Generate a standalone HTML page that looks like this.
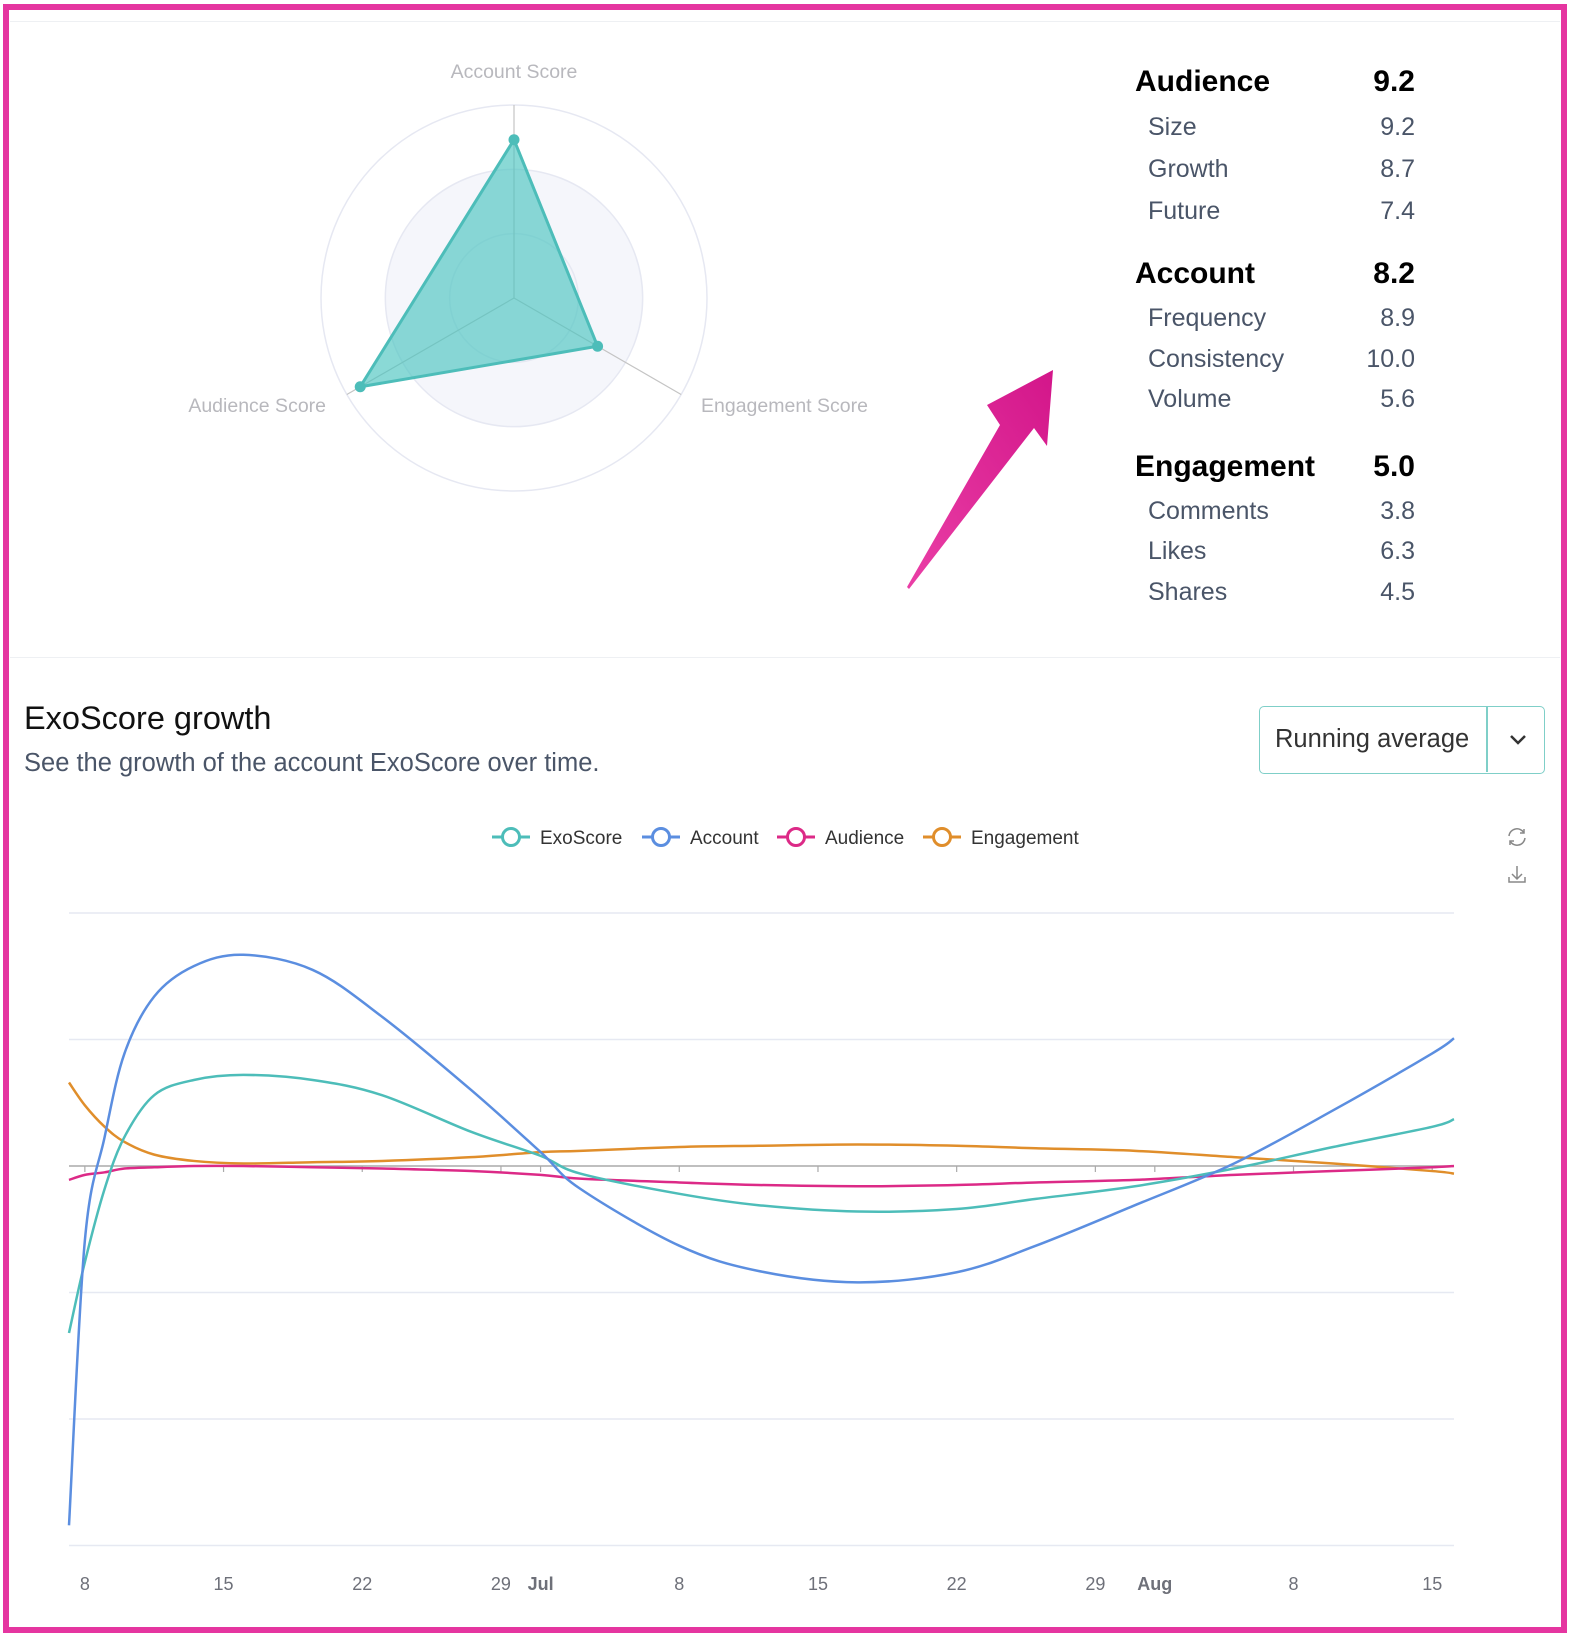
<!DOCTYPE html>
<html><head><meta charset="utf-8"><style>
html,body{margin:0;padding:0;background:#fff;}
body{width:1572px;height:1637px;position:relative;overflow:hidden;font-family:"Liberation Sans",sans-serif;}
.frame{position:absolute;left:3px;top:4px;width:1552px;height:1617px;border:6px solid #e535a0;}
.t{position:absolute;white-space:nowrap;}
.h{font-size:30px;color:#000;font-weight:bold;}
.s{font-size:25px;color:#4a5568;}
</style></head><body>
<div class="frame"></div>
<div style="position:absolute;left:10px;top:21px;width:1550px;height:1px;background:#eef0f3"></div>
<div style="position:absolute;left:10px;top:657px;width:1550px;height:1px;background:#eef0f3"></div>

<svg id="radar" width="1572" height="660" style="position:absolute;left:0;top:0"></svg>

<svg width="1572" height="660" style="position:absolute;left:0;top:0">
<defs><linearGradient id="ag" x1="0" y1="1" x2="1" y2="0"><stop offset="0" stop-color="#ea3fa6"/><stop offset="1" stop-color="#d3168a"/></linearGradient></defs>
<path d="M907,587 L1000,425 L987,405 L1053,370 L1047,446 L1034,428 L909,589 Z" fill="url(#ag)"/>
</svg>

<div>
<div class="t h" style="left:1135px;top:65px">Audience</div>
<div class="t h" style="right:157px;top:65px">9.2</div>
<div class="t s" style="left:1148px;top:113px">Size</div><div class="t s" style="right:157px;top:113px">9.2</div>
<div class="t s" style="left:1148px;top:155px">Growth</div><div class="t s" style="right:157px;top:155px">8.7</div>
<div class="t s" style="left:1148px;top:197px">Future</div><div class="t s" style="right:157px;top:197px">7.4</div>
<div class="t h" style="left:1135px;top:257px">Account</div>
<div class="t h" style="right:157px;top:257px">8.2</div>
<div class="t s" style="left:1148px;top:304px">Frequency</div><div class="t s" style="right:157px;top:304px">8.9</div>
<div class="t s" style="left:1148px;top:345px">Consistency</div><div class="t s" style="right:157px;top:345px">10.0</div>
<div class="t s" style="left:1148px;top:385px">Volume</div><div class="t s" style="right:157px;top:385px">5.6</div>
<div class="t h" style="left:1135px;top:450px">Engagement</div>
<div class="t h" style="right:157px;top:450px">5.0</div>
<div class="t s" style="left:1148px;top:497px">Comments</div><div class="t s" style="right:157px;top:497px">3.8</div>
<div class="t s" style="left:1148px;top:537px">Likes</div><div class="t s" style="right:157px;top:537px">6.3</div>
<div class="t s" style="left:1148px;top:578px">Shares</div><div class="t s" style="right:157px;top:578px">4.5</div>
</div>

<div class="t" style="left:24px;top:700px;font-size:32.5px;color:#111">ExoScore growth</div>
<div class="t" style="left:24px;top:749px;font-size:25.5px;color:#4a5568">See the growth of the account ExoScore over time.</div>

<div style="position:absolute;left:1259px;top:706px;width:286px;height:68px;border:1.5px solid #7fcfc8;border-radius:5px;box-sizing:border-box">
<div class="t" style="left:15px;top:18px;font-size:25.5px;color:#333">Running average</div>
<div style="position:absolute;left:226px;top:0;width:1.5px;height:65px;background:#7fcfc8"></div>
<svg style="position:absolute;left:248px;top:26px" width="20" height="14"><path d="M3,3 L10,10 L17,3" fill="none" stroke="#333" stroke-width="2.5"/></svg>
</div>

<svg style="position:absolute;left:1505px;top:825px" width="24" height="60">
<g fill="none" stroke="#888" stroke-width="1.5"><path d="M4,11 A8,8 0 0 1 19,8"/><path d="M20,13 A8,8 0 0 1 5,16"/><path d="M19,4 L19,8 L15,8"/><path d="M5,20 L5,16 L9,16"/></g>
<g fill="none" stroke="#888" stroke-width="1.5"><path d="M12,41 L12,54 M7,49 L12,54 L17,49 M4,52 L4,57 L20,57 L20,52"/></g>
</svg>

<svg id="line" width="1572" height="1637" style="position:absolute;left:0;top:0"></svg>

<script>
// ---- radar data ----
const radarAxes = ['Account Score','Engagement Score','Audience Score'];
const radarValues = [8.2, 5.0, 9.2];
const radarMax = 10;

// ---- line chart data ----
const days = [-0.8,0,1,2,3.5,5.5,8,11.5,15,19.5,23,25,30,34,39,44,48,53,58,63,68,69.1];
const exoScore = [-1.32,-0.76,-0.18,0.23,0.56,0.68,0.72,0.68,0.56,0.27,0.08,-0.06,-0.22,-0.31,-0.36,-0.34,-0.26,-0.16,-0.02,0.15,0.31,0.37];
const account = [-2.84,-0.59,0.23,0.89,1.34,1.58,1.67,1.55,1.18,0.60,0.11,-0.18,-0.63,-0.83,-0.92,-0.84,-0.63,-0.31,0.02,0.44,0.89,1.01];
const audience = [-0.11,-0.07,-0.05,-0.02,-0.01,0,0,-0.01,-0.02,-0.04,-0.07,-0.10,-0.13,-0.15,-0.16,-0.15,-0.13,-0.11,-0.07,-0.04,-0.01,0];
const engagement = [0.66,0.48,0.31,0.19,0.09,0.04,0.02,0.03,0.04,0.07,0.11,0.12,0.15,0.16,0.17,0.16,0.14,0.12,0.07,0.02,-0.04,-0.06];
const tickDays = [0,7,14,21,23,30,37,44,51,54,61,68];
const tickLabels = ['8','15','22','29','Jul','8','15','22','29','Aug','8','15'];
const gridValues = [2,1,0,-1,-2,-3];

const NS='http://www.w3.org/2000/svg';
function mk(p,tag,a){const e=document.createElementNS(NS,tag);for(const k in a)e.setAttribute(k,a[k]);p.appendChild(e);return e;}

// radar
(function(){
  const svg=document.getElementById('radar');
  const cx=514,cy=298,R=193;
  const ang=i=>-Math.PI/2+i*2*Math.PI/radarAxes.length;
  const outer=mk(svg,'circle',{cx,cy,r:R,fill:'none',stroke:'#e6e8f2','stroke-width':1.5});
  
  mk(svg,'circle',{cx,cy,r:R*2/3,fill:'#f5f6fb',stroke:'#e6e8f2','stroke-width':1.5});
  mk(svg,'circle',{cx,cy,r:R/3,fill:'none',stroke:'#e6e8f2','stroke-width':1.5});
  radarAxes.forEach((n,i)=>{const a=ang(i);
    mk(svg,'line',{x1:cx,y1:cy,x2:cx+R*Math.cos(a),y2:cy+R*Math.sin(a),stroke:'#c4c4c4','stroke-width':1.2});});
  const pts=radarValues.map((v,i)=>{const a=ang(i),r=v/radarMax*R;return [cx+r*Math.cos(a),cy+r*Math.sin(a)];});
  const poly=mk(svg,'polygon',{points:pts.map(p=>p.join(',')).join(' '),fill:'rgba(76,196,192,0.65)',stroke:'#4dbdb9','stroke-width':3});
  
  pts.forEach(p=>{const c=mk(svg,'circle',{cx:p[0],cy:p[1],r:5.5,fill:'#4dbdb9'});
    });
  const lp=[[514,78,'middle'],[701,412,'start'],[326,412,'end']];
  radarAxes.forEach((n,i)=>{const t=mk(svg,'text',{x:lp[i][0],y:lp[i][1],'text-anchor':lp[i][2],fill:'#b8b8bd','font-size':19.5,'font-family':'Liberation Sans, sans-serif'});t.textContent=n;
    });
})();

// line chart
(function(){
  const svg=document.getElementById('line');
  const X0=69,X1=1454,D0=-0.8,D1=69.1;
  const xs=d=>X0+(d-D0)/(D1-D0)*(X1-X0);
  const ys=v=>1166-v*126.5;
  gridValues.forEach(v=>{const l=mk(svg,'line',{x1:X0,x2:X1,y1:ys(v),y2:ys(v),stroke:v===0?'#aaa':'#e6e9f2','stroke-width':1.5});
    });
  tickDays.forEach((d,i)=>{const x=xs(d);
    mk(svg,'line',{x1:x,x2:x,y1:1166,y2:1172,stroke:'#aaa','stroke-width':1.2});
    const t=mk(svg,'text',{x:x,y:1590,'text-anchor':'middle',fill:'#6e7079','font-size':18,'font-weight':(tickLabels[i]==='Jul'||tickLabels[i]==='Aug')?'bold':'normal','font-family':'Liberation Sans, sans-serif'});
    t.textContent=tickLabels[i];
    });
  function path(vals){
    const p=days.map((d,i)=>[xs(d),ys(vals[i])]);
    let s='M'+p[0][0]+','+p[0][1];
    for(let i=0;i<p.length-1;i++){
      const p0=p[i-1]||p[i],p1=p[i],p2=p[i+1],p3=p[i+2]||p2;
      const c1=[p1[0]+(p2[0]-p0[0])/6,p1[1]+(p2[1]-p0[1])/6];
      const c2=[p2[0]-(p3[0]-p1[0])/6,p2[1]-(p3[1]-p1[1])/6];
      s+=' C'+c1+' '+c2+' '+p2;
    }
    return s;
  }
  const series=[['engagement',engagement,'#e08e2b'],['audience',audience,'#dc2a87'],['exoscore',exoScore,'#4dbdb9'],['account',account,'#5b8ee0']];
  series.forEach(s=>{const e=mk(svg,'path',{d:path(s[1]),fill:'none',stroke:s[2],'stroke-width':2.5});
    });
  const leg=[['ExoScore','#4dbdb9',511],['Account','#5b8ee0',661],['Audience','#dc2a87',796],['Engagement','#e08e2b',942]];
  leg.forEach(l=>{const g=mk(svg,'g',{});
    
    mk(g,'line',{x1:l[2]-19,x2:l[2]+19,y1:837,y2:837,stroke:l[1],'stroke-width':3});
    mk(g,'circle',{cx:l[2],cy:837,r:8.5,fill:'#fff',stroke:l[1],'stroke-width':3});
    const t=mk(g,'text',{x:l[2]+29,y:844,fill:'#333','font-size':19,'font-family':'Liberation Sans, sans-serif'});t.textContent=l[0];});
})();
</script>
</body></html>
